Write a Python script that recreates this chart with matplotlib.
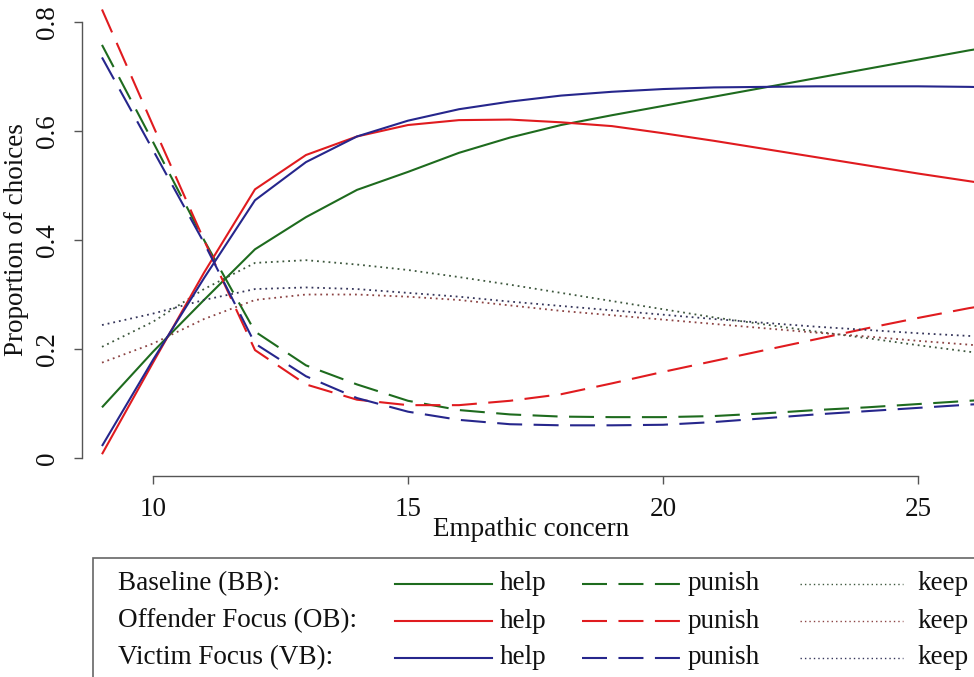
# Proportion of choices vs empathic concern, three conditions

import numpy as np
import matplotlib.pyplot as plt
from matplotlib.lines import Line2D
from matplotlib.patches import Rectangle

plt.rcParams['font.family'] = ['Liberation Serif', 'DejaVu Serif']

# Empathic concern values (integer steps)
empathy = np.arange(9, 28)

# Baseline (BB)
bb_help = [0.093, 0.195, 0.29, 0.383, 0.442, 0.492, 0.525, 0.56, 0.588, 0.611,
           0.629, 0.646, 0.663, 0.68, 0.697, 0.714, 0.731, 0.748, 0.763]
bb_punish = [0.758, 0.58, 0.40, 0.232, 0.17, 0.135, 0.105, 0.088, 0.08, 0.076,
             0.075, 0.075, 0.077, 0.082, 0.088, 0.093, 0.099, 0.105, 0.11]
bb_keep = [0.204, 0.25, 0.31, 0.358, 0.363, 0.355, 0.345, 0.332, 0.318, 0.303,
           0.288, 0.273, 0.258, 0.245, 0.232, 0.22, 0.207, 0.195, 0.185]

# Offender Focus (OB)
ob_help = [0.007, 0.175, 0.34, 0.493, 0.556, 0.59, 0.611, 0.62, 0.621, 0.616,
           0.609, 0.596, 0.582, 0.567, 0.552, 0.537, 0.522, 0.508, 0.494]
ob_punish = [0.823, 0.61, 0.40, 0.198, 0.135, 0.107, 0.097, 0.097, 0.105, 0.117,
             0.137, 0.158, 0.178, 0.198, 0.218, 0.238, 0.257, 0.275, 0.29]
ob_keep = [0.175, 0.21, 0.255, 0.29, 0.3, 0.3, 0.296, 0.29, 0.28, 0.27,
           0.262, 0.254, 0.246, 0.238, 0.23, 0.223, 0.215, 0.208, 0.2]

# Victim Focus (VB)
vb_help = [0.022, 0.18, 0.33, 0.473, 0.543, 0.59, 0.619, 0.64, 0.654, 0.665,
           0.672, 0.677, 0.68, 0.681, 0.682, 0.682, 0.682, 0.681, 0.679]
vb_punish = [0.735, 0.565, 0.395, 0.21, 0.15, 0.11, 0.085, 0.07, 0.062, 0.06,
             0.06, 0.061, 0.066, 0.073, 0.08, 0.086, 0.092, 0.098, 0.103]
vb_keep = [0.244, 0.265, 0.29, 0.31, 0.313, 0.31, 0.303, 0.296, 0.287, 0.279,
           0.271, 0.263, 0.255, 0.248, 0.241, 0.235, 0.229, 0.224, 0.22]

groups = ['Baseline (BB):', 'Offender Focus (OB):', 'Victim Focus (VB):']
outcomes = ['help', 'punish', 'keep']
colors = ['#1e6b1e', '#e01b1f', '#26268c']
keep_colors = ['#3d573d', '#8c4444', '#35355a']

dash = (12, 5.5)
dot = (1, 2.2)
fs = 19.5

fig = plt.figure(figsize=(9.74, 6.77), dpi=100)
W, H = 974, 677
ax = fig.add_axes([82 / W, 1 - 476 / H, 1 - 82 / W, 476 / H])

series = [(bb_help, bb_punish, bb_keep),
          (ob_help, ob_punish, ob_keep),
          (vb_help, vb_punish, vb_keep)]

for i, (h, p, k) in enumerate(series):
    ax.plot(empathy, h, color=colors[i], lw=1.5, solid_capstyle='butt')
    ax.plot(empathy, p, color=colors[i], lw=1.5, linestyle=(0, dash),
            dash_capstyle='butt')
    ax.plot(empathy, k, color=keep_colors[i], lw=1.3, linestyle=(0, dot))

ax.set_xlim(8.608, 26.098)
ax.set_ylim(-0.033, 0.8404)

for s in ['top', 'right']:
    ax.spines[s].set_visible(False)
ax.spines['bottom'].set_bounds(10, 25)
ax.spines['left'].set_bounds(0, 0.8)
for s in ['bottom', 'left']:
    ax.spines[s].set_color('#555555')
    ax.spines[s].set_linewidth(1.0)

ax.set_xticks([10, 15, 20, 25])
ax.set_yticks([0, 0.2, 0.4, 0.6, 0.8])
ax.set_yticklabels(['0', '0.2', '0.4', '0.6', '0.8'], rotation=90, va='center')
ax.tick_params(axis='both', direction='out', length=6, width=1.0,
               color='#555555', labelsize=fs, labelcolor='#111111')
ax.tick_params(axis='x', pad=9)
ax.tick_params(axis='y', pad=10)

fig.text(531 / W, 1 - 529 / H, 'Empathic concern', fontsize=fs,
         ha='center', va='center', color='#111111')
fig.text(17 / W, 1 - 240 / H, 'Proportion of choices', fontsize=fs,
         ha='center', va='center', rotation=90, color='#111111')

# legend box, drawn by hand in pixel positions
fig.patches.append(Rectangle((93 / W, -0.05), 1.0, (677 - 558) / H + 0.05,
                             transform=fig.transFigure, fill=False,
                             edgecolor='#666666', lw=1.2))
rows = [584, 621, 658]
for i, y in enumerate(rows):
    yf = 1 - y / H
    fig.text(118 / W, yf, groups[i], fontsize=fs, ha='left', va='center',
             color='#111111')
    fig.add_artist(Line2D([395 / W, 492 / W], [yf, yf], color=colors[i],
                          lw=1.5, transform=fig.transFigure))
    fig.text(500 / W, yf, 'help', fontsize=fs, ha='left', va='center',
             color='#111111')
    fig.add_artist(Line2D([582 / W, 680 / W], [yf, yf], color=colors[i],
                          lw=1.5, linestyle=(0, dash), dash_capstyle='butt',
                          transform=fig.transFigure))
    fig.text(688 / W, yf, 'punish', fontsize=fs, ha='left', va='center',
             color='#111111')
    fig.add_artist(Line2D([800 / W, 903 / W], [yf, yf], color=keep_colors[i],
                          lw=1.0, linestyle=(0, dot), transform=fig.transFigure))
    fig.text(917 / W, yf, 'keep', fontsize=fs, ha='left', va='center',
             color='#111111')

fig.savefig('out.png', dpi=100)
